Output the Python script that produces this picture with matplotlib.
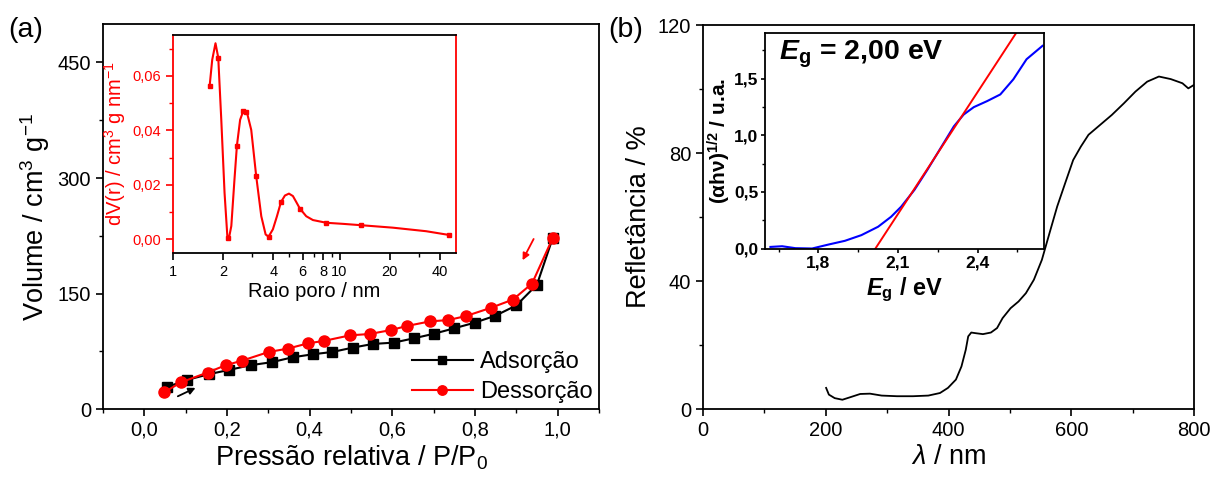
import matplotlib
matplotlib.use("Agg")
import matplotlib.pyplot as plt
from matplotlib.ticker import FixedLocator, NullFormatter

plt.rcParams['font.family'] = ['Liberation Sans', 'DejaVu Sans']
plt.rcParams['mathtext.fontset'] = 'custom'
plt.rcParams['mathtext.rm'] = 'Liberation Sans'
plt.rcParams['mathtext.it'] = 'Liberation Sans:italic'
plt.rcParams['mathtext.bf'] = 'Liberation Sans:bold'
plt.rcParams['mathtext.bfit'] = 'Liberation Sans:italic:bold'

# ---------------- data: panel (a) isotherm ----------------
ads_x = [0.054, 0.104, 0.157, 0.206, 0.257, 0.308, 0.359, 0.408, 0.455, 0.504,
         0.553, 0.603, 0.652, 0.701, 0.749, 0.799, 0.849, 0.900, 0.950, 0.988]
ads_y = [28.4, 37.9, 45.3, 50.9, 56.9, 60.8, 67.2, 71.1, 74.1, 79.7,
         84.5, 86.2, 91.8, 97.8, 104.7, 112.1, 121.1, 134.5, 161.6, 222.0]
des_x = [0.988, 0.938, 0.892, 0.839, 0.778, 0.735, 0.691, 0.635, 0.597, 0.545,
         0.498, 0.434, 0.396, 0.347, 0.301, 0.237, 0.197, 0.153, 0.088, 0.048]
des_y = [222.0, 162.9, 142.2, 131.5, 120.7, 115.5, 113.8, 107.8, 102.6, 97.4,
         95.7, 88.4, 85.3, 78.4, 74.1, 62.9, 56.9, 47.4, 34.5, 21.6]
a_xticks = [0.0, 0.2, 0.4, 0.6, 0.8, 1.0]
a_xticklabels = ['0,0', '0,2', '0,4', '0,6', '0,8', '1,0']
a_yticks = [0, 150, 300, 450]
a_yticklabels = ['0', '150', '300', '450']

# ---------------- data: panel (a) inset, pore size distribution ----------------
psd_line_r = [1.66, 1.72, 1.80, 1.87, 1.95, 2.04, 2.12, 2.17, 2.24, 2.34, 2.42, 2.53,
              2.65, 2.78, 2.95, 3.16, 3.39, 3.60, 3.75, 3.98, 4.21, 4.45, 4.70, 4.97,
              5.25, 5.50, 5.78, 6.31, 6.92, 8.32, 10.5, 13.5, 20.9, 33.1, 45.7]
psd_line_v = [0.0563, 0.0659, 0.0720, 0.0667, 0.0439, 0.0171, 0.0012, 0.0006, 0.0049,
              0.0220, 0.0344, 0.0439, 0.0473, 0.0466, 0.0402, 0.0232, 0.0085, 0.0018,
              0.0010, 0.0037, 0.0085, 0.0137, 0.0161, 0.0168, 0.0159, 0.0137, 0.0113,
              0.0085, 0.0071, 0.0061, 0.0057, 0.0052, 0.0043, 0.0030, 0.0016]
psd_pts_r = [1.66, 1.87, 2.14, 2.42, 2.65, 2.74, 3.16, 3.75, 4.45, 5.78, 8.3, 13.5, 45.7]
psd_pts_v = [0.0563, 0.0667, 0.0006, 0.0344, 0.0470, 0.0467, 0.0232, 0.0010, 0.0137,
             0.0113, 0.0061, 0.0052, 0.0016]
ia_xticks = [1, 2, 4, 6, 8, 10, 20, 40]
ia_xticklabels = ['1', '2', '4', '6', '8', '10', '20', '40']
ia_yticks = [0.0, 0.02, 0.04, 0.06]
ia_yticklabels = ['0,00', '0,02', '0,04', '0,06']

# ---------------- data: panel (b) reflectance ----------------
refl_wl = [200.5, 205, 214.5, 227, 240, 256, 272, 291, 316, 342, 367, 386, 399, 412,
           421, 428, 432, 437, 444, 456, 469, 479, 488, 501, 514, 526, 539, 552,
           564.5, 577, 590, 603, 615.5, 628, 647, 666, 685.5, 704.5, 723.6, 742.7,
           762, 781, 790.6, 800]
refl_r = [6.6, 4.5, 3.4, 2.9, 3.7, 4.7, 4.8, 4.2, 4.0, 4.0, 4.2, 5.0, 6.6, 9.2,
          13.3, 18.5, 22.7, 23.9, 23.7, 23.4, 23.9, 25.3, 28.4, 31.5, 33.6, 36.2, 40.4,
          46.6, 55.0, 63.3, 70.6, 77.8, 82.0, 85.7, 88.8, 91.9, 95.5, 99.2, 102.3, 103.9,
          103.1, 101.8, 100.2, 101.3]
b_xticks = [0, 200, 400, 600, 800]
b_xticklabels = ['0', '200', '400', '600', '800']
b_yticks = [0, 40, 80, 120]
b_yticklabels = ['0', '40', '80', '120']

# ---------------- data: panel (b) inset, Tauc plot ----------------
tauc_e = [1.619, 1.663, 1.713, 1.776, 1.838, 1.900, 1.962, 2.025, 2.074, 2.112, 2.162,
          2.211, 2.261, 2.311, 2.348, 2.386, 2.436, 2.486, 2.535, 2.585, 2.645]
tauc_y = [0.014, 0.020, 0.003, 0.000, 0.035, 0.068, 0.118, 0.192, 0.280, 0.369, 0.517,
          0.695, 0.887, 1.079, 1.183, 1.248, 1.301, 1.360, 1.493, 1.671, 1.789]
fit_e = [2.015, 2.545]
fit_y = [0.0, 1.9]
ib_xticks = [1.8, 2.1, 2.4]
ib_xticklabels = ['1,8', '2,1', '2,4']
ib_yticks = [0.0, 0.5, 1.0, 1.5]
ib_yticklabels = ['0,0', '0,5', '1,0', '1,5']

RED = '#FF0000'
BLUE = '#0000FF'


def style_ticks(ax, size=14.5):
    ax.tick_params(which='major', direction='out', length=5, width=1.2, labelsize=size,
                   top=False, right=False)
    ax.tick_params(which='minor', direction='out', length=3, width=1.0,
                   top=False, right=False)
    for s in ax.spines.values():
        s.set_linewidth(1.3)


fig = plt.figure(figsize=(12.13, 4.79), dpi=100)

# ---------------- panel (a) ----------------
ax1 = fig.add_axes([0.0849, 0.1461, 0.4089, 0.8038])
ax1.plot(ads_x, ads_y, '-s', color='black', ms=6.5, lw=1.5, label='Adsorção')
ax1.plot(des_x, des_y, '-o', color=RED, ms=8, lw=1.5, label='Dessorção')
ax1.set_xlim(-0.1, 1.1)
ax1.set_ylim(0, 500)
ax1.set_xticks(a_xticks)
ax1.set_xticklabels(a_xticklabels)
ax1.set_yticks(a_yticks)
ax1.set_yticklabels(a_yticklabels)
ax1.xaxis.set_minor_locator(FixedLocator([-0.1, 0.1, 0.3, 0.5, 0.7, 0.9, 1.1]))
ax1.yaxis.set_minor_locator(FixedLocator([75, 225, 375]))
style_ticks(ax1)
ax1.set_xlabel('Pressão relativa / P/P$_0$', fontsize=19.5, labelpad=3)
ax1.set_ylabel('Volume / cm$^3$ g$^{-1}$', fontsize=19.5, labelpad=4)
ax1.legend(loc='lower right', bbox_to_anchor=(1.03, -0.04), frameon=False, fontsize=17,
           handlelength=2.6, handletextpad=0.3, labelspacing=0.35, markerscale=0.85)
ax1.annotate('', xy=(0.13, 29), xytext=(0.075, 15),
             arrowprops=dict(arrowstyle='-|>', color='black', lw=1.3, mutation_scale=10))
ax1.annotate('', xy=(0.912, 190), xytext=(0.945, 224),
             arrowprops=dict(arrowstyle='-|>', color=RED, lw=1.3, mutation_scale=10))

# inset (a)
axi = fig.add_axes([0.1426, 0.4718, 0.2333, 0.455])
axi.plot(psd_line_r, psd_line_v, '-', color=RED, lw=1.5)
axi.plot(psd_pts_r, psd_pts_v, 's', color=RED, ms=3.5)
axi.set_xscale('log')
axi.set_xlim(1, 50)
axi.set_ylim(-0.005, 0.075)
axi.xaxis.set_major_locator(FixedLocator(ia_xticks))
axi.set_xticklabels(ia_xticklabels)
axi.xaxis.set_minor_locator(FixedLocator([3, 5, 7, 9, 30]))
axi.xaxis.set_minor_formatter(NullFormatter())
axi.set_yticks(ia_yticks)
axi.set_yticklabels(ia_yticklabels)
axi.yaxis.set_minor_locator(FixedLocator([0.01, 0.03, 0.05, 0.07]))
style_ticks(axi, size=10.5)
axi.tick_params(axis='y', which='both', colors=RED)
axi.spines['left'].set_color(RED)
axi.spines['right'].set_color(RED)
axi.set_xlabel('Raio poro / nm', fontsize=14.5, labelpad=2)
axi.set_ylabel('dV(r) / cm$^3$ g nm$^{-1}$', fontsize=14.5, color=RED, labelpad=3)

# ---------------- panel (b) ----------------
ax2 = fig.add_axes([0.5796, 0.1461, 0.4048, 0.8017])
ax2.plot(refl_wl, refl_r, '-', color='black', lw=1.3)
ax2.set_xlim(0, 800)
ax2.set_ylim(0, 120)
ax2.set_xticks(b_xticks)
ax2.set_xticklabels(b_xticklabels)
ax2.set_yticks(b_yticks)
ax2.set_yticklabels(b_yticklabels)
ax2.xaxis.set_minor_locator(FixedLocator([100, 300, 500, 700]))
ax2.yaxis.set_minor_locator(FixedLocator([20, 60, 100]))
style_ticks(ax2)
ax2.set_xlabel(r'$\lambda$ / nm', fontsize=19.5, labelpad=3)
ax2.set_ylabel('Refletância / %', fontsize=19.5, labelpad=4)

# inset (b)
axb = fig.add_axes([0.631, 0.4812, 0.2295, 0.4493])
axb.plot(tauc_e, tauc_y, '-', color=BLUE, lw=1.5)
axb.plot(fit_e, fit_y, '-', color=RED, lw=1.4)
axb.set_xlim(1.6, 2.65)
axb.set_ylim(0, 1.9)
axb.set_xticks(ib_xticks)
axb.set_xticklabels(ib_xticklabels, fontweight='bold')
axb.set_yticks(ib_yticks)
axb.set_yticklabels(ib_yticklabels, fontweight='bold')
axb.xaxis.set_minor_locator(FixedLocator([1.65, 1.95, 2.25, 2.55]))
axb.yaxis.set_minor_locator(FixedLocator([0.25, 0.75, 1.25, 1.75]))
style_ticks(axb, size=12.5)
axb.tick_params(which='major', length=3, pad=2)
axb.tick_params(which='minor', length=2)
axb.set_xlabel(r'$\mathbfit{E}_\mathbf{g}$ / eV', fontsize=17, fontweight='bold', labelpad=4)
axb.set_ylabel(r'(αhν)$^{\mathbf{1/2}}$ / u.a.', fontsize=15, fontweight='bold', labelpad=1)
axb.text(0.05, 0.975, r'$\mathbfit{E}_\mathbf{g}$ = 2,00 eV', transform=axb.transAxes,
         fontsize=20.5, fontweight='bold', va='top', ha='left')

fig.text(0.021, 0.937, '(a)', fontsize=20.5, ha='center', va='center')
fig.text(0.516, 0.937, '(b)', fontsize=20.5, ha='center', va='center')

fig.savefig('out.png', dpi=100)
